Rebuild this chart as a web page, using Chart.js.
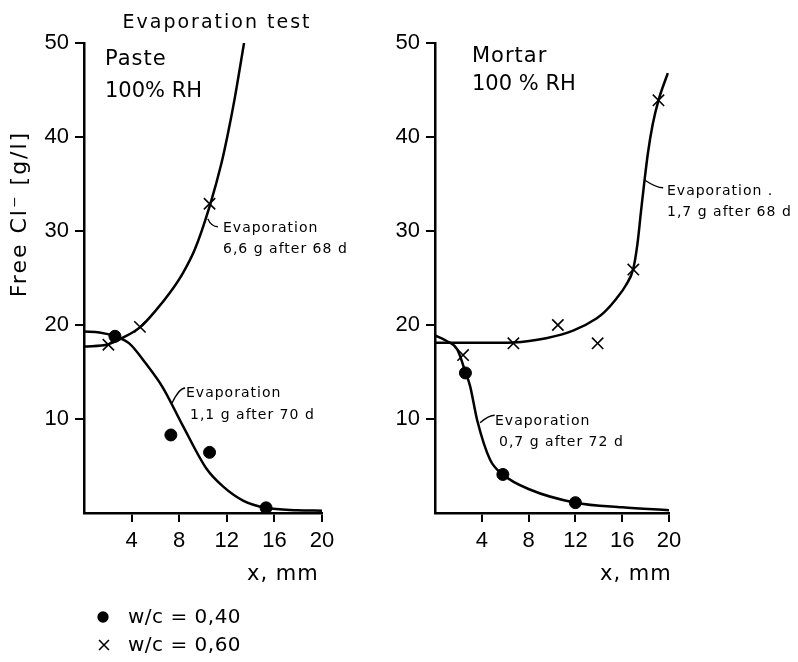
<!DOCTYPE html>
<html><head><meta charset="utf-8">
<script src="https://cdn.jsdelivr.net/npm/chart.js@4.4.1/dist/chart.umd.min.js"></script>
<style>
html,body{margin:0;padding:0;background:#fff;}
#wrap{position:relative;width:798px;height:662px;background:#fff;}
canvas{position:absolute;left:0;top:0;}
</style></head><body>
<div id="wrap"><canvas id="c1" width="798" height="662"></canvas><canvas id="c2" width="798" height="662"></canvas></div>
<script>
// ---- data (x in mm, free Cl- in g/l) ----
const xTickStep = 4;
const yTickStep = 10;
const xMax = 20;
const yMax = 50;

// Paste, 100 % RH
const pasteDotX = [2.6, 7.3, 10.55, 15.3];
const pasteDotY = [18.8, 8.3, 6.45, 0.55];
const pasteCrossX = [2.05, 4.7, 10.55];
const pasteCrossY = [17.9, 19.8, 32.9];
const pasteFit40X = [0, 1.3, 2.6, 3.8, 5.2, 6.6, 8.3, 10.3, 11.7, 13.4, 15.3, 17.9, 20];
const pasteFit40Y = [19.3, 19.2, 18.8, 18.05, 15.9, 13.4, 9.3, 4.7, 2.8, 1.3, 0.55, 0.3, 0.25];
const pasteFit60X = [0, 2.05, 3.2, 4.75, 6, 7.2, 8.3, 9.3, 10.55, 11.55, 12.1, 12.65, 13.45];
const pasteFit60Y = [17.7, 17.95, 18.6, 19.8, 21.5, 23.4, 25.5, 28, 32.6, 37.2, 40.4, 44.0, 50];

// Mortar, 100 % RH
const mortarDotX = [2.6, 5.8, 12.0];
const mortarDotY = [14.9, 4.1, 1.1];
const mortarCrossX = [2.4, 6.7, 10.5, 13.9, 16.95, 19.1];
const mortarCrossY = [16.8, 18.05, 20.0, 18.05, 25.9, 43.9];
const mortarFit40X = [0, 1, 1.9, 2.6, 3, 3.6, 4.7, 5.8, 8.1, 12, 16, 20];
const mortarFit40Y = [18.9, 18.3, 17.4, 15.0, 13.5, 9.9, 5.7, 4.1, 2.5, 1.1, 0.6, 0.3];
const mortarFit60X = [0, 3.8, 6.7, 9.5, 11.8, 13.8, 14.5, 15.5, 16.3, 16.95, 17.3, 17.6, 17.9, 18.2, 18.6, 19.1, 19.9];
const mortarFit60Y = [18.1, 18.1, 18.15, 18.6, 19.4, 20.7, 21.4, 22.8, 24.2, 26.0, 28.6, 32.0, 35.3, 38.3, 41.3, 43.9, 46.8];

// leader hooks for the annotations: [x0,y0, cx,cy, x1,y1] in data units
const pasteLeaders = [[10.4, 31.3, 10.7, 30.45, 11.25, 30.45], [7.4, 11.7, 8.0, 13.3, 8.5, 13.3]];
const mortarLeaders = [[17.95, 35.4, 18.9, 34.6, 19.5, 34.6], [3.85, 9.6, 4.6, 10.4, 5.1, 10.4]];

const zip = (xs, ys) => xs.map((x, i) => ({x: x, y: ys[i]}));

const F = '"DejaVu Sans", "Liberation Sans", sans-serif';
const TF = '"Liberation Sans", "DejaVu Sans", sans-serif';

function curve(xs, ys) {
  return {data: zip(xs, ys), borderColor: '#000', borderWidth: 2.5, pointRadius: 0,
          cubicInterpolationMode: 'monotone', fill: false, showLine: true};
}
function dots(xs, ys) {
  return {data: zip(xs, ys), showLine: false, pointStyle: 'circle', pointRadius: 6,
          backgroundColor: '#000', borderColor: '#000', borderWidth: 1};
}
function crosses(xs, ys) {
  return {data: zip(xs, ys), showLine: false, pointStyle: 'crossRot', pointRadius: 8,
          backgroundColor: '#000', borderColor: '#000', borderWidth: 1.6};
}

function textPlugin(items, leaders, extra) {
  return {id: 'txt', afterDraw(chart) {
    const ctx = chart.ctx, xs = chart.scales.x, ys = chart.scales.y;
    ctx.save();
    ctx.strokeStyle = '#000'; ctx.lineWidth = 1.3;
    leaders.forEach(L => {
      ctx.beginPath();
      ctx.moveTo(xs.getPixelForValue(L[0]), ys.getPixelForValue(L[1]));
      ctx.quadraticCurveTo(xs.getPixelForValue(L[2]), ys.getPixelForValue(L[3]),
                           xs.getPixelForValue(L[4]), ys.getPixelForValue(L[5]));
      ctx.stroke();
    });
    ctx.fillStyle = '#000';
    items.forEach(t => {
      ctx.font = t.font;
      ctx.letterSpacing = (t.ls || 0) + 'px';
      ctx.textAlign = t.align || 'left';
      ctx.textBaseline = t.base || 'alphabetic';
      if (t.rot) {
        ctx.save(); ctx.translate(t.x, t.y); ctx.rotate(t.rot); ctx.fillText(t.text, 0, 0); ctx.restore();
      } else ctx.fillText(t.text, t.x, t.y);
    });
    ctx.letterSpacing = '0px';
    if (extra) extra(ctx);
    ctx.restore();
  }};
}

function scalesFor(yWidth, yPad) {
  const tickColor = c => (c.tick && c.tick.value === 0) ? 'rgba(0,0,0,0)' : '#000';
  return {
    x: {type: 'linear', min: 0, max: xMax,
        afterFit: s => { s.height = 149; },
        grid: {drawOnChartArea: false, drawTicks: true, tickLength: 9, color: tickColor, lineWidth: 2},
        border: {display: true, color: '#000', width: 2.5},
        ticks: {stepSize: xTickStep, color: '#000', font: {family: TF, size: 22}, padding: 6,
                maxRotation: 0, autoSkip: false, callback: v => v === 0 ? '' : String(v)}},
    y: {type: 'linear', min: 0, max: yMax,
        afterFit: s => { s.width = yWidth; },
        grid: {drawOnChartArea: false, drawTicks: true, tickLength: 9, color: tickColor, lineWidth: 2},
        border: {display: true, color: '#000', width: 2.5},
        ticks: {stepSize: yTickStep, color: '#000', font: {family: TF, size: 22}, padding: yPad,
                autoSkip: false, callback: v => v === 0 ? '' : String(v)}}
  };
}

const common = {animation: false, responsive: false, maintainAspectRatio: false,
  plugins: {legend: {display: false}, tooltip: {enabled: false}, title: {display: false}}};

// ---- left: Paste ----
const pasteTexts = [
  {text: 'Evaporation test', x: 217, y: 28, font: '19px ' + F, ls: 2, align: 'center'},
  {text: 'Free Cl\u207B [g/l]', x: 20, y: 214, font: '22px ' + F, ls: 2, align: 'center', base: 'middle', rot: -Math.PI / 2},
  {text: 'Paste', x: 105, y: 65, font: '21px ' + F, ls: 1},
  {text: '100% RH', x: 105, y: 97, font: '21px ' + F},
  {text: 'Evaporation', x: 223, y: 232, font: '14px ' + F, ls: 1},
  {text: '6,6 g after 68 d', x: 223, y: 253, font: '14px ' + F, ls: 1},
  {text: 'Evaporation', x: 186, y: 397, font: '14px ' + F, ls: 1},
  {text: '1,1 g after 70 d', x: 190, y: 419, font: '14px ' + F, ls: 1},
  {text: 'x, mm', x: 247, y: 580, font: '21px ' + F, ls: 1},
  {text: 'w/c = 0,40', x: 128, y: 623, font: '20px ' + F, ls: 0.5},
  {text: 'w/c = 0,60', x: 128, y: 651, font: '20px ' + F, ls: 0.5}
];
function legendMarks(ctx) {
  Chart.helpers.drawPoint(ctx, {pointStyle: 'circle', radius: 5, borderWidth: 1}, 103, 617);
  ctx.fill();
  ctx.lineWidth = 1.6; ctx.strokeStyle = '#000';
  Chart.helpers.drawPoint(ctx, {pointStyle: 'crossRot', radius: 7, borderWidth: 1.6}, 104, 645);
}

new Chart(document.getElementById('c1'), {
  type: 'line',
  data: {datasets: [
    curve(pasteFit40X, pasteFit40Y), curve(pasteFit60X, pasteFit60Y),
    dots(pasteDotX, pasteDotY), crosses(pasteCrossX, pasteCrossY)]},
  options: Object.assign({}, common, {
    layout: {padding: {left: 0, right: 476, top: 43, bottom: 0}},
    scales: scalesFor(84, 6)}),
  plugins: [textPlugin(pasteTexts, pasteLeaders, legendMarks)]
});

// ---- right: Mortar ----
const mortarTexts = [
  {text: 'Mortar', x: 472, y: 62, font: '21px ' + F, ls: 1},
  {text: '100 % RH', x: 472, y: 90, font: '21px ' + F},
  {text: 'Evaporation .', x: 667, y: 195, font: '14px ' + F, ls: 1},
  {text: '1,7 g after 68 d', x: 667, y: 216, font: '14px ' + F, ls: 1},
  {text: 'Evaporation', x: 495, y: 425, font: '14px ' + F, ls: 1},
  {text: '0,7 g after 72 d', x: 499, y: 446, font: '14px ' + F, ls: 1},
  {text: 'x, mm', x: 600, y: 580, font: '21px ' + F, ls: 1}
];
new Chart(document.getElementById('c2'), {
  type: 'line',
  data: {datasets: [
    curve(mortarFit40X, mortarFit40Y), curve(mortarFit60X, mortarFit60Y),
    dots(mortarDotX, mortarDotY), crosses(mortarCrossX, mortarCrossY)]},
  options: Object.assign({}, common, {
    layout: {padding: {left: 352, right: 129, top: 43, bottom: 0}},
    scales: scalesFor(83, 6)}),
  plugins: [textPlugin(mortarTexts, mortarLeaders, null)]
});
</script>
</body></html>
